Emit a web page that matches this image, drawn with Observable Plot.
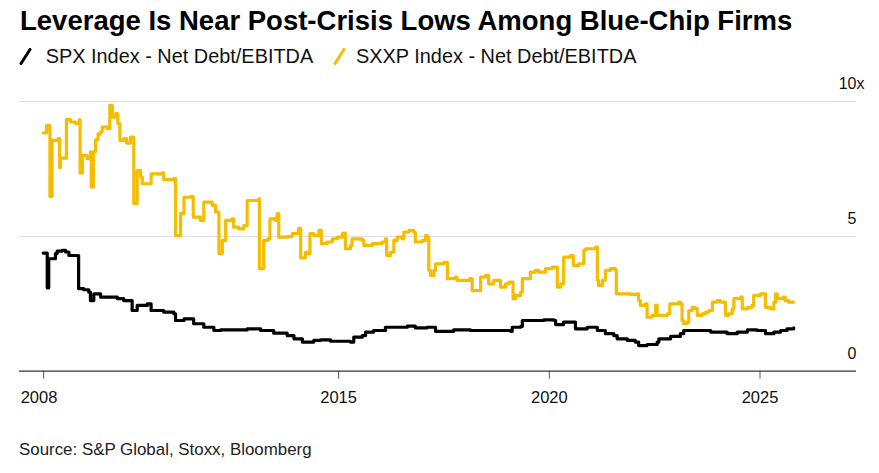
<!DOCTYPE html>
<html>
<head>
<meta charset="utf-8">
<script src="https://cdn.jsdelivr.net/npm/d3@7"></script>
<script src="https://cdn.jsdelivr.net/npm/@observablehq/plot@0.6"></script>
<style>
  body { margin: 0; background: #fff; font-family: "Liberation Sans", Arial, sans-serif; }
  #wrap { position: relative; width: 879px; height: 473px; overflow: hidden; background: #fff; }
  #title { position: absolute; left: 20px; top: 7px; font-size: 27.5px; font-weight: bold; line-height: 1; color: #000; white-space: nowrap; }
  .leg { position: absolute; top: 47px; font-size: 19.9px; line-height: 1; color: #111; white-space: nowrap; }
  .icon { position: absolute; top: 48px; }
  #chart { position: absolute; left: 0; top: 75px; }
  #source { position: absolute; left: 19px; top: 442px; font-size: 16.9px; line-height: 1; color: #222; white-space: nowrap; }
</style>
</head>
<body>
<div id="wrap">
  <div id="title"></div>
  <svg class="icon" style="left:19px" width="13" height="17"><line x1="2" y1="15.5" x2="11" y2="1.5" stroke="#000" stroke-width="3" stroke-linecap="round"/></svg>
  <div class="leg" id="leg1" style="left:45.7px"></div>
  <svg class="icon" style="left:333px" width="13" height="17"><line x1="2" y1="15.5" x2="11" y2="1.5" stroke="#f5bd00" stroke-width="3" stroke-linecap="round"/></svg>
  <div class="leg" id="leg2" style="left:356px"></div>
  <div id="chart"></div>
  <div id="source"></div>
</div>
<script>
const titleText = "Leverage Is Near Post-Crisis Lows Among Blue-Chip Firms";
const seriesNames = ["SPX Index - Net Debt/EBITDA", "SXXP Index - Net Debt/EBITDA"];
const sourceText = "Source: S&P Global, Stoxx, Bloomberg";
const xTicks = [2008, 2015, 2020, 2025];
const yTicks = [0, 5, 10];
const yGrid = [5, 10];
const xDomain = [2007.427, 2027.29];

// [decimal year, Net Debt/EBITDA]
const spx = [
  [2007.99,4.38],[2008.07,4.38],[2008.085,3.09],[2008.12,4.17],[2008.20,4.17],[2008.28,4.36],
  [2008.32,4.45],[2008.44,4.48],[2008.52,4.42],[2008.60,4.29],[2008.80,4.29],[2008.83,3.06],
  [2008.95,3.02],[2009.07,2.93],[2009.11,2.62],[2009.19,2.87],[2009.35,2.75],[2009.75,2.69],
  [2009.90,2.62],[2010.06,2.62],[2010.10,2.25],[2010.22,2.44],[2010.46,2.50],[2010.55,2.25],
  [2010.85,2.19],[2011.09,2.13],[2011.13,1.88],[2011.33,1.94],[2011.56,1.76],[2011.80,1.63],
  [2012.04,1.51],[2012.20,1.53],[2012.83,1.57],[2013.15,1.51],[2013.46,1.41],[2013.78,1.32],
  [2013.94,1.20],[2014.14,1.08],[2014.41,1.14],[2014.57,1.16],[2014.81,1.11],[2015.28,1.08],
  [2015.36,1.26],[2015.56,1.32],[2015.64,1.45],[2015.83,1.51],[2016.11,1.63],[2016.39,1.63],
  [2016.63,1.67],[2016.82,1.61],[2017.10,1.63],[2017.30,1.48],[2017.73,1.53],[2018.13,1.51],
  [2018.52,1.51],[2019.08,1.48],[2019.12,1.63],[2019.32,1.66],[2019.36,1.88],[2019.63,1.88],
  [2019.87,1.90],[2020.11,1.88],[2020.15,1.73],[2020.34,1.82],[2020.58,1.82],[2020.62,1.57],
  [2020.90,1.63],[2021.10,1.63],[2021.14,1.51],[2021.33,1.39],[2021.53,1.32],[2021.61,1.20],
  [2021.85,1.14],[2022.04,1.08],[2022.12,0.95],[2022.32,0.99],[2022.56,1.08],[2022.60,1.20],
  [2022.88,1.29],[2023.11,1.39],[2023.19,1.51],[2023.51,1.51],[2023.83,1.45],[2024.14,1.45],
  [2024.22,1.39],[2024.46,1.45],[2024.70,1.53],[2024.93,1.51],[2025.13,1.39],[2025.33,1.45],
  [2025.49,1.51],[2025.64,1.57],[2025.80,1.61]
];

const sxxp = [
  [2007.99,8.84],[2008.07,9.11],[2008.10,9.11],[2008.15,6.48],[2008.20,8.56],[2008.34,8.62],
  [2008.38,7.55],[2008.40,7.90],[2008.52,7.90],[2008.54,9.33],[2008.64,9.24],[2008.76,9.18],
  [2008.85,9.33],[2008.865,7.35],[2008.92,8.00],[2009.03,7.88],[2009.11,8.13],[2009.13,6.83],
  [2009.18,8.13],[2009.23,8.58],[2009.29,8.80],[2009.35,8.87],[2009.39,9.05],[2009.52,8.99],
  [2009.57,9.86],[2009.63,9.42],[2009.71,9.55],[2009.76,9.18],[2009.81,8.56],[2009.90,8.62],
  [2009.97,8.46],[2010.06,8.68],[2010.14,6.21],[2010.22,7.44],[2010.30,7.20],[2010.34,6.95],
  [2010.50,6.95],[2010.55,7.32],[2010.69,7.32],[2010.81,7.35],[2010.85,7.10],[2011.09,7.14],
  [2011.13,5.03],[2011.25,5.84],[2011.33,6.45],[2011.49,6.48],[2011.55,5.71],[2011.72,5.59],
  [2011.80,6.27],[2012.00,6.15],[2012.08,5.90],[2012.16,4.36],[2012.24,4.85],[2012.32,5.59],
  [2012.47,5.65],[2012.51,5.34],[2012.63,5.28],[2012.75,5.40],[2012.83,6.33],[2013.11,6.39],
  [2013.12,3.80],[2013.22,4.85],[2013.32,4.91],[2013.37,5.65],[2013.50,5.59],[2013.54,5.84],
  [2013.58,4.97],[2013.78,4.99],[2013.90,5.10],[2014.05,5.30],[2014.10,4.20],[2014.21,4.41],
  [2014.25,4.36],[2014.32,5.10],[2014.41,5.03],[2014.53,5.22],[2014.59,4.73],[2014.73,4.79],
  [2014.85,4.91],[2014.97,4.97],[2015.09,5.10],[2015.12,5.12],[2015.16,4.54],[2015.28,4.66],
  [2015.32,4.91],[2015.56,4.85],[2015.60,4.66],[2015.80,4.73],[2016.03,4.79],[2016.11,4.91],
  [2016.14,4.29],[2016.23,4.41],[2016.31,4.85],[2016.39,4.97],[2016.51,4.91],[2016.55,5.16],
  [2016.67,5.22],[2016.78,5.16],[2016.82,4.79],[2016.98,4.85],[2017.06,5.03],[2017.10,4.97],
  [2017.14,3.74],[2017.18,3.55],[2017.26,3.74],[2017.30,3.98],[2017.50,4.04],[2017.58,3.43],
  [2017.77,3.49],[2017.81,3.37],[2018.05,3.37],[2018.11,3.43],[2018.17,2.99],[2018.33,2.99],
  [2018.37,3.49],[2018.49,3.55],[2018.56,3.24],[2018.68,3.37],[2018.76,3.37],[2018.84,3.12],
  [2018.96,3.24],[2019.04,3.30],[2019.10,3.30],[2019.14,2.69],[2019.20,2.81],[2019.32,2.93],
  [2019.36,3.43],[2019.51,3.43],[2019.55,3.67],[2019.67,3.74],[2019.75,3.67],[2019.91,3.80],
  [2020.07,3.86],[2020.15,3.86],[2020.19,3.12],[2020.27,3.24],[2020.34,4.23],[2020.50,4.29],
  [2020.57,3.92],[2020.70,3.98],[2020.82,4.48],[2020.86,4.54],[2021.10,4.60],[2021.14,3.37],
  [2021.17,3.18],[2021.26,3.37],[2021.33,3.74],[2021.45,3.80],[2021.57,3.74],[2021.59,2.87],
  [2021.77,2.87],[2021.93,2.85],[2022.08,2.87],[2022.12,2.62],[2022.16,2.44],[2022.28,2.50],
  [2022.32,2.00],[2022.44,2.07],[2022.52,2.44],[2022.56,2.07],[2022.80,2.13],[2022.86,2.50],
  [2023.07,2.56],[2023.11,2.50],[2023.15,1.88],[2023.19,1.76],[2023.27,1.82],[2023.31,2.25],
  [2023.39,2.37],[2023.45,2.33],[2023.51,2.07],[2023.63,2.13],[2023.71,2.19],[2023.79,2.25],
  [2023.87,2.56],[2023.98,2.62],[2024.06,2.56],[2024.14,2.56],[2024.18,2.07],[2024.26,2.13],
  [2024.34,2.31],[2024.38,2.69],[2024.54,2.75],[2024.58,2.31],[2024.70,2.37],[2024.81,2.44],
  [2024.85,2.81],[2025.01,2.87],[2025.08,2.87],[2025.13,2.37],[2025.25,2.31],[2025.33,2.56],
  [2025.37,2.87],[2025.41,2.69],[2025.49,2.69],[2025.56,2.75],[2025.60,2.62],[2025.68,2.56],
  [2025.80,2.56]
];

const colors = ["#000000", "#f5bd00"];

document.getElementById("title").textContent = titleText;
document.getElementById("leg1").textContent = seriesNames[0];
document.getElementById("leg2").textContent = seriesNames[1];
document.getElementById("source").textContent = sourceText;

const W = 879, H = 360, mT = 26, mB = 64.3;
const plotH = H - mT - mB;
const font = "Liberation Sans, Arial, sans-serif";

const chart = Plot.plot({
  width: W,
  height: H,
  marginLeft: 19,
  marginRight: 23,
  marginTop: mT,
  marginBottom: mB,
  x: {type: "linear", domain: xDomain, axis: null},
  y: {domain: [0, 10], axis: null},
  style: {fontFamily: font, background: "#fff", overflow: "visible"},
  marks: [
    Plot.ruleY(yGrid, {y: d => d, stroke: "#dcdcdc", strokeWidth: 1}),
    Plot.ruleX(xTicks, {x: d => d, insetTop: plotH, insetBottom: -8, stroke: "#555", strokeWidth: 1}),
    Plot.ruleY([0], {y: d => d, stroke: "#333", strokeWidth: 1.3}),
    Plot.text(xTicks.slice(0, 1), {x: d => d, y: 0, text: d => String(d), textAnchor: "start", dx: -23, dy: 32, lineAnchor: "bottom", fontSize: 16.5, fill: "#111"}),
    Plot.text(xTicks.slice(1), {x: d => d, y: 0, text: d => String(d), dy: 32, lineAnchor: "bottom", fontSize: 16.5, fill: "#111"}),
    Plot.text(yTicks, {x: xDomain[1], y: d => d, text: d => String(d), textAnchor: "end", lineAnchor: "bottom", dy: -12.5, fontSize: 16, fill: "#111"}),
    Plot.text([10], {x: xDomain[1], y: d => d, text: () => "x", textAnchor: "start", lineAnchor: "bottom", dy: -12.5, fontSize: 16, fill: "#111"}),
    Plot.line(sxxp, {x: d => d[0], y: d => d[1], stroke: colors[1], strokeWidth: 3.2, curve: "step-after"}),
    Plot.line(spx, {x: d => d[0], y: d => d[1], stroke: colors[0], strokeWidth: 3.2, curve: "step-after"})
  ]
});
document.getElementById("chart").appendChild(chart);
</script>
</body>
</html>
